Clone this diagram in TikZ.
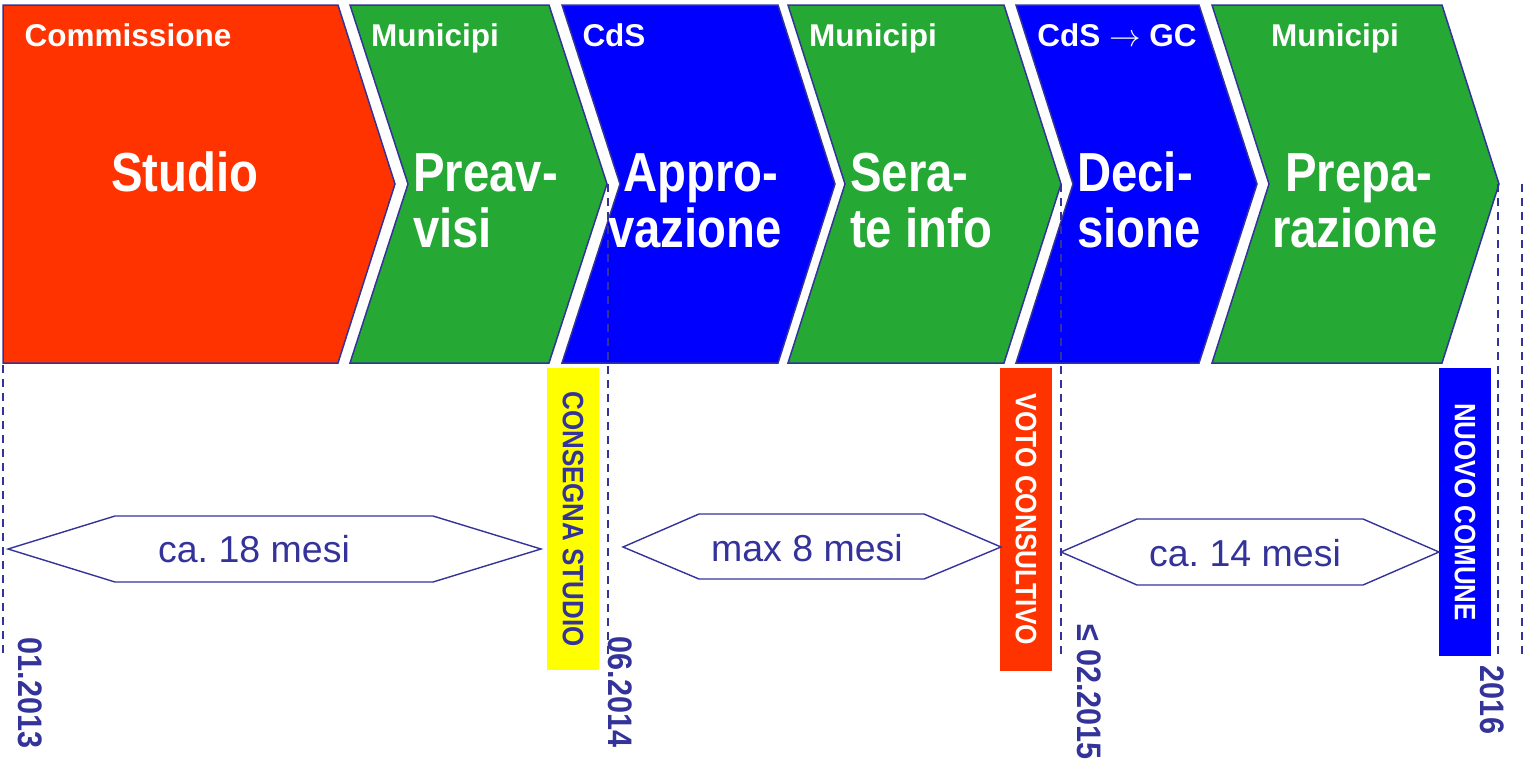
\RequirePackage{fix-cm}
\documentclass[tikz,border=0pt]{standalone}
\usepackage{fontspec}
\setmainfont{Liberation Sans}
\newfontfamily\mainf{Liberation Sans}[FakeStretch=0.86]
\newfontfamily\datef{Liberation Sans}[FakeStretch=0.9]
\newfontfamily\boxf{Liberation Sans}[FakeStretch=0.88]
\newfontfamily\votof{Liberation Sans}[FakeStretch=0.89]
\definecolor{ink}{HTML}{333399}
\definecolor{cred}{HTML}{FF3300}
\definecolor{cgreen}{HTML}{25A834}
\definecolor{cblue}{HTML}{0000FF}
\definecolor{cyellow}{HTML}{FFFF00}
\frenchspacing
\begin{document}
\begin{tikzpicture}[x=1pt,y=-1pt,
  chev/.style={draw=ink,line width=1.5pt,line join=miter},
  toplab/.style={text=white,font=\fontsize{31.5}{36}\selectfont\bfseries,anchor=base,inner sep=0},
  mainlab/.style={text=white,font=\mainf\fontsize{55}{56}\selectfont\bfseries,inner sep=0},
  vline/.style={draw=ink,line width=1.4pt,dash pattern=on 8pt off 6pt},
  datelab/.style={text=ink,font=\datef\fontsize{34}{36}\selectfont\bfseries,rotate=-90,inner sep=0},
  milebox/.style={rotate=-90,inner sep=0,minimum height=52pt},
  hexa/.style={draw=ink,line width=1.4pt,fill=white,line join=miter},
  durlab/.style={text=ink,font=\fontsize{37.5}{40}\selectfont,inner sep=0}]
\useasboundingbox (0,0) rectangle (1524,766);

% chevrons
\fill[cred,chev] (3,5) -- (338,5) -- (395,184) -- (338,363) -- (3,363) -- cycle;
\fill[cgreen,chev] (350,5) -- (549,5) -- (607,184) -- (549,363) -- (350,363) -- (408,184) -- cycle;
\fill[cblue,chev] (562,5) -- (778,5) -- (835,184) -- (778,363) -- (562,363) -- (620,184) -- cycle;
\fill[cgreen,chev] (788,5) -- (1004,5) -- (1061,184) -- (1004,363) -- (788,363) -- (845,184) -- cycle;
\fill[cblue,chev] (1016,5) -- (1199,5) -- (1257,184) -- (1199,363) -- (1016,363) -- (1073,184) -- cycle;
\fill[cgreen,chev] (1212,5) -- (1442,5) -- (1499,184) -- (1442,363) -- (1212,363) -- (1269,184) -- cycle;

% top labels
\node[toplab] (t1) at (128,46) {Commissione};
\node[toplab] (t2) at (435,46) {Municipi};
\node[toplab] (t3) at (614,46) {CdS};
\node[toplab] (t4) at (873,46) {Municipi};
\node[toplab] (t5) at (1117,46) {CdS $\rightarrow$ GC};
\node[toplab] (t6) at (1335,46) {Municipi};

% main labels
\node[mainlab,anchor=base] (m1) at (185,191) {Studio};
\node[mainlab,anchor=base west] (m2a) at (413,191) {Preav-};
\node[mainlab,anchor=base west] (m2b) at (413,247) {visi};
\node[mainlab,anchor=base] (m3a) at (701,191) {Appro-};
\node[mainlab,anchor=base] (m3b) at (695,247) {vazione};
\node[mainlab,anchor=base west] (m4a) at (850,191) {Sera-};
\node[mainlab,anchor=base west] (m4b) at (850,247) {te info};
\node[mainlab,anchor=base west] (m5a) at (1077,191) {Deci-};
\node[mainlab,anchor=base west] (m5b) at (1077,247) {sione};
\node[mainlab,anchor=base] (m6a) at (1359,191) {Prepa-};
\node[mainlab,anchor=base] (m6b) at (1355,247) {razione};

% dashed time lines
\coordinate (d1t) at (3,365);   \coordinate (d1b) at (3,655);
\coordinate (d2t) at (608,184); \coordinate (d2b) at (608,655);
\coordinate (d3t) at (1061,184); \coordinate (d3b) at (1061,655);
\coordinate (d4t) at (1498,184); \coordinate (d4b) at (1498,655);
\coordinate (d5t) at (1522,184); \coordinate (d5b) at (1522,655);
\draw[vline] (d1t) -- (d1b);
\draw[vline] (d2t) -- (d2b);
\draw[vline] (d3t) -- (d3b);
\draw[vline] (d4t) -- (d4b);
\draw[vline] (d5t) -- (d5b);

% milestone boxes
\node[milebox,fill=cyellow,minimum width=302pt,text=ink,font=\boxf\fontsize{29.5}{32}\selectfont\bfseries] (ms1) at (573,519) {CONSEGNA STUDIO};
\node[milebox,fill=cred,minimum width=303pt,text=white,font=\votof\fontsize{29.5}{32}\selectfont\bfseries] (ms2) at (1026,519.5) {VOTO CONSULTIVO};
\node[milebox,fill=cblue,minimum width=288pt,text=white,font=\boxf\fontsize{29.5}{32}\selectfont\bfseries] (ms3) at (1465,512) {NUOVO COMUNE};

% durations
\draw[hexa] (8,549) -- (115,516) -- (433,516) -- (541,549) -- (433,582) -- (115,582) -- cycle;
\node[durlab] (h1) at (254,549.5) {ca. 18 mesi};
\draw[hexa] (623,547) -- (699,514) -- (924,514) -- (1001,547) -- (924,579) -- (699,579) -- cycle;
\node[durlab] (h2) at (807,548) {max 8 mesi};
\draw[hexa] (1061,552) -- (1137,519) -- (1363,519) -- (1439,552) -- (1363,585) -- (1137,585) -- cycle;
\node[durlab] (h3) at (1245,553) {ca. 14 mesi};

% dates
\node[datelab] (y1) at (30.5,693) {01.2013};
\node[datelab] (y2) at (620,692) {06.2014};
\node[datelab] (y3) at (1089,692) {≤ 02.2015};
\node[datelab] (y4) at (1492.5,700) {2016};
\end{tikzpicture}
\end{document}
